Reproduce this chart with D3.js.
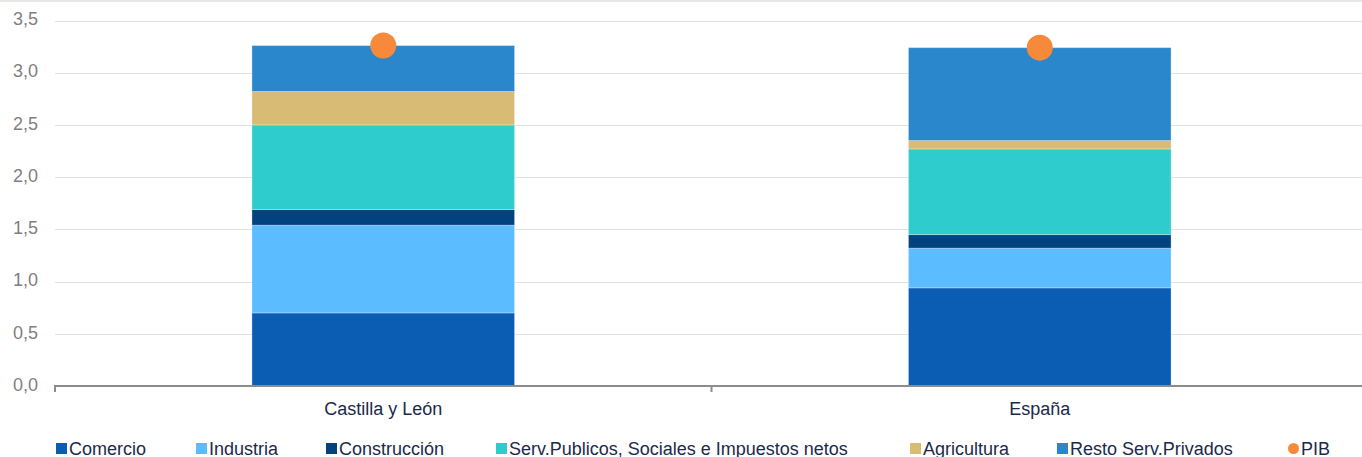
<!DOCTYPE html>
<html>
<head>
<meta charset="utf-8">
<script src="https://cdn.jsdelivr.net/npm/d3@7/dist/d3.min.js"></script>
<style>
  html, body { margin: 0; padding: 0; background: #ffffff; overflow: hidden; }
  svg { display: block; font-family: "Liberation Sans", Arial, sans-serif; }
</style>
</head>
<body>
<svg id="chart" width="1362" height="457"></svg>
<script>
// Contribución al crecimiento del PIB por sectores (puntos porcentuales)
const categories = ["Castilla y León", "España"];
const seriesNames = ["Comercio", "Industria", "Construcción",
  "Serv.Publicos, Sociales e Impuestos netos", "Agricultura", "Resto Serv.Privados"];
const comercio     = [0.70, 0.94];
const industria    = [0.84, 0.38];
const construccion = [0.15, 0.13];
const servPublicos = [0.81, 0.82];
const agricultura  = [0.32, 0.08];
const restoPrivados= [0.44, 0.89];
const pib          = [3.26, 3.24];
const yTicks = [0, 0.5, 1, 1.5, 2, 2.5, 3, 3.5];

const seriesValues = [comercio, industria, construccion, servPublicos, agricultura, restoPrivados];
const colors = ["#0b5db3", "#5bbcff", "#00437f", "#2ecccc", "#d8bc76", "#2a87cb"];
const pibColor = "#f78a3a";

const svg = d3.select("#chart");
const W = 1362;

const x = d3.scaleBand().domain(categories).range([55, 1368]).padding(0);
const y = d3.scaleLinear().domain([0, 3.5]).range([386, 20.5]);
const barW = x.bandwidth() * 0.4;

// top border
svg.append("line").attr("x1", 0).attr("x2", W).attr("y1", 1).attr("y2", 1)
  .attr("stroke", "#e6e6e6").attr("stroke-width", 2);

// gridlines
svg.append("g").selectAll("line").data(yTicks.filter(d => d > 0)).join("line")
  .attr("x1", 55).attr("x2", W)
  .attr("y1", d => Math.round(y(d)) + 0.5).attr("y2", d => Math.round(y(d)) + 0.5)
  .attr("stroke", "#e2e2e2").attr("stroke-width", 1.2);

// y labels
const fmt = d => d3.format(".1f")(d).replace(".", ",");
svg.append("g").selectAll("text").data(yTicks).join("text")
  .attr("x", 38).attr("y", d => y(d))
  .attr("text-anchor", "end").attr("dominant-baseline", "middle")
  .attr("font-size", 18).attr("fill", "#7f7f7f")
  .text(fmt);

// stacked bars
const rows = categories.map((c, i) => {
  const r = { cat: c };
  seriesNames.forEach((s, k) => r[s] = seriesValues[k][i]);
  return r;
});
const stack = d3.stack().keys(seriesNames)(rows);
svg.append("g").selectAll("g").data(stack).join("g")
  .attr("fill", (d, i) => colors[i])
  .selectAll("rect").data(d => d).join("rect")
  .attr("x", d => x(d.data.cat) + (x.bandwidth() - barW) / 2)
  .attr("width", barW)
  .attr("y", d => y(d[1]))
  .attr("height", d => y(d[0]) - y(d[1]))
  .attr("stroke", "rgba(255,255,255,0.3)").attr("stroke-width", 1);

// x axis
const axisY = 386;
svg.append("line").attr("x1", 54).attr("x2", W).attr("y1", axisY).attr("y2", axisY)
  .attr("stroke", "#8c8c8c").attr("stroke-width", 2.2);
svg.append("g").selectAll("line").data([55, 55 + x.bandwidth()]).join("line")
  .attr("x1", d => d).attr("x2", d => d)
  .attr("y1", axisY).attr("y2", axisY + 6)
  .attr("stroke", "#8c8c8c").attr("stroke-width", 2);

// category labels
svg.append("g").selectAll("text").data(categories).join("text")
  .attr("x", d => x(d) + x.bandwidth() / 2).attr("y", 415)
  .attr("text-anchor", "middle").attr("font-size", 18).attr("fill", "#1b2a4a")
  .text(d => d);

// PIB markers
svg.append("g").selectAll("circle").data(categories).join("circle")
  .attr("cx", d => x(d) + x.bandwidth() / 2)
  .attr("cy", (d, i) => y(pib[i]))
  .attr("r", 13).attr("fill", pibColor);

// legend (item start positions along the bottom row)
const legendX = [56, 196, 326, 496, 910, 1057, 1288];
const legend = svg.append("g");
const items = seriesNames.map((s, i) => ({ name: s, color: colors[i], type: "rect" }))
  .concat([{ name: "PIB", color: pibColor, type: "circle" }]);
items.forEach((it, i) => {
  const lx = legendX[i];
  if (it.type === "rect") {
    legend.append("rect").attr("x", lx).attr("y", 443).attr("width", 11).attr("height", 11)
      .attr("fill", it.color);
  } else {
    legend.append("circle").attr("cx", lx + 5.5).attr("cy", 448.5).attr("r", 5.5)
      .attr("fill", it.color);
  }
  legend.append("text").attr("x", lx + 13).attr("y", 455)
    .attr("font-size", 18).attr("fill", "#1b2a4a").text(it.name);
});
</script>
</body>
</html>
